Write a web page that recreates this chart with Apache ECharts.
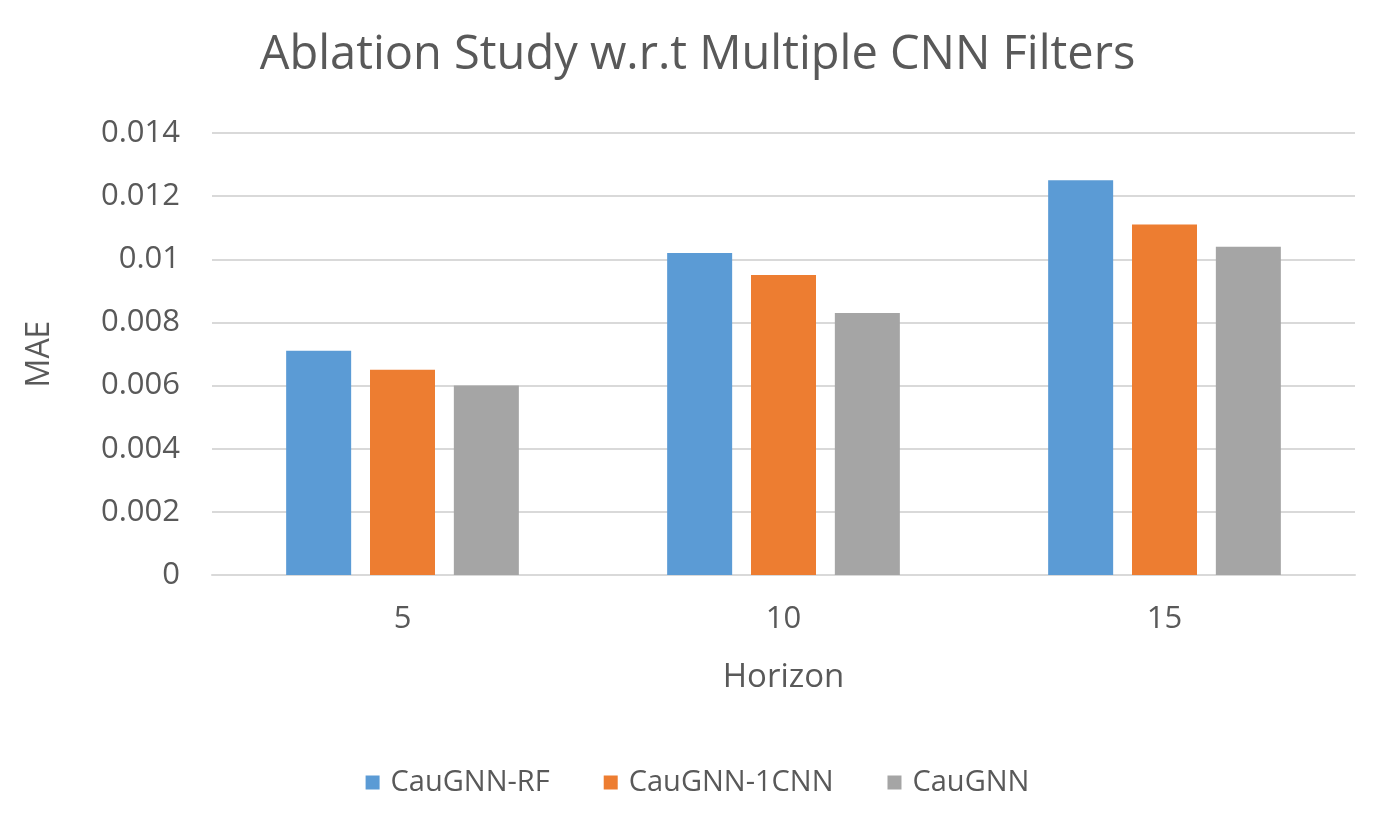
<!DOCTYPE html>
<html>
<head>
<meta charset="utf-8">
<script src="https://cdn.jsdelivr.net/npm/echarts@6/dist/echarts.min.js"></script>
<style>
  html, body { margin: 0; padding: 0; background: #fff; }
  #main { width: 1395px; height: 820px; }
</style>
</head>
<body>
<div id="main"></div>
<script>
// horizons on the x axis
const horizons = ['5', '10', '15'];
// MAE per model
const rfValues = [0.0071, 0.0102, 0.0125];
const oneCnnValues = [0.0065, 0.0095, 0.0111];
const caugnnValues = [0.0060, 0.0083, 0.0104];

const seriesNames = ['CauGNN-RF', 'CauGNN-1CNN', 'CauGNN'];
const seriesColors = ['#5B9BD5', '#ED7D31', '#A5A5A5'];

const font = '"Open Sans", Lato, sans-serif';
const textColor = '#595959';

let chart = echarts.init(document.getElementById('main'));

//组装 series
let series = [rfValues, oneCnnValues, caugnnValues].map((vals, i) => ({
  name: seriesNames[i],
  type: 'bar',
  data: vals,
  barWidth: 65,
  barGap: '29%',
  itemStyle: { color: seriesColors[i] }
}));

chart.setOption({
  backgroundColor: '#ffffff',
  animation: false,
  color: seriesColors,
  title: {
    text: 'Ablation Study w.r.t Multiple CNN Filters',
    left: 'center',
    top: 27,
    textStyle: { fontFamily: font, fontSize: 47, fontWeight: 'normal', color: textColor }
  },
  legend: {
    bottom: 18,
    left: 'center',
    itemWidth: 14,
    itemHeight: 14,
    itemGap: 54,
    icon: 'rect',
    textStyle: { fontFamily: font, fontSize: 29, color: textColor, padding: [0, 0, 0, 6] }
  },
  grid: { left: 212, right: 40, top: 133, bottom: 245 },
  xAxis: {
    type: 'category',
    data: horizons,
    name: 'Horizon',
    nameLocation: 'middle',
    nameGap: 86,
    nameTextStyle: { fontFamily: font, fontSize: 33, color: textColor },
    axisLine: { lineStyle: { color: '#d9d9d9', width: 2 } },
    axisTick: { show: false },
    axisLabel: { fontFamily: font, fontSize: 31, color: textColor, margin: 29 }
  },
  yAxis: {
    type: 'value',
    min: 0,
    max: 0.014,
    interval: 0.002,
    name: 'MAE',
    nameLocation: 'middle',
    nameGap: 156,
    nameTextStyle: { fontFamily: font, fontSize: 32, color: textColor },
    axisLine: { show: false },
    axisTick: { show: false },
    axisLabel: {
      fontFamily: font, fontSize: 31, color: textColor, margin: 32,
      formatter: v => String(+v.toFixed(3))
    },
    splitLine: { lineStyle: { color: '#d9d9d9', width: 2 } }
  },
  series
});
</script>
</body>
</html>
